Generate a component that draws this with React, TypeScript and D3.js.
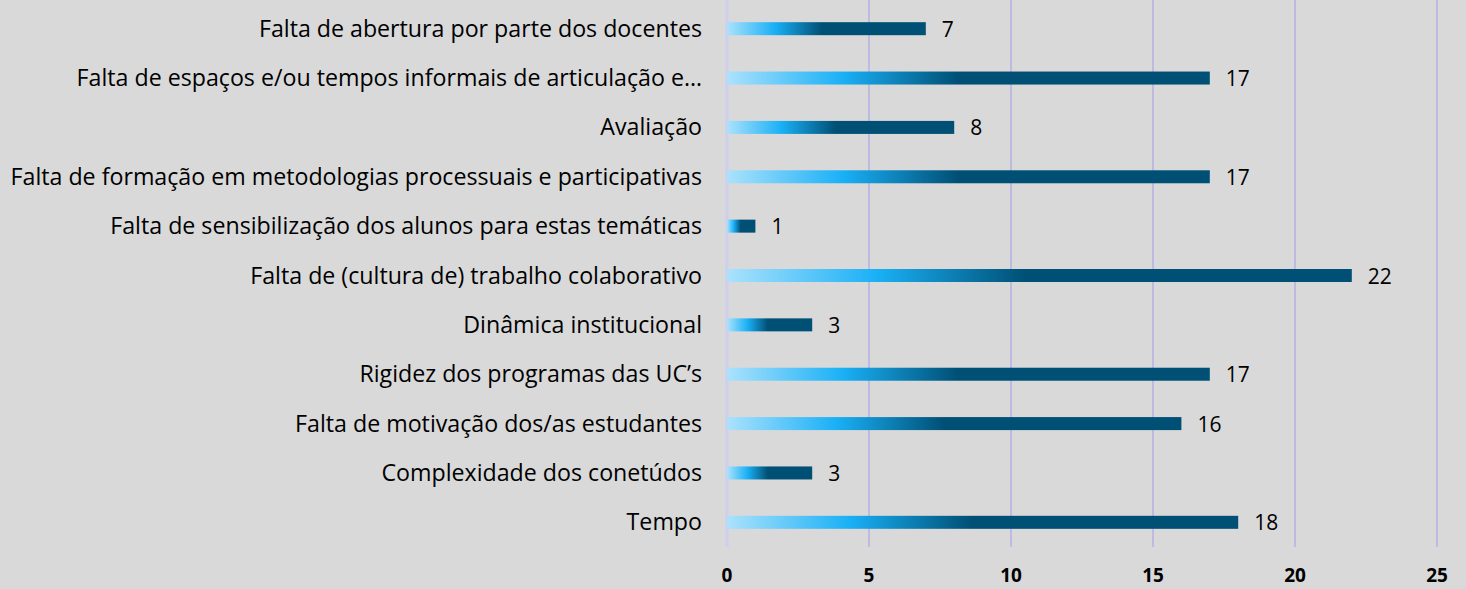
import React from "react";
import * as d3 from "d3";

const categories = [
  "Falta de abertura por parte dos docentes",
  "Falta de espaços e/ou tempos informais de articulação e…",
  "Avaliação",
  "Falta de formação em metodologias processuais e participativas",
  "Falta de sensibilização dos alunos para estas temáticas",
  "Falta de (cultura de) trabalho colaborativo",
  "Dinâmica institucional",
  "Rigidez dos programas das UC’s",
  "Falta de motivação dos/as estudantes",
  "Complexidade dos conetúdos",
  "Tempo",
];
const values = [7, 17, 8, 17, 1, 22, 3, 17, 16, 3, 18];
const ticks = [0, 5, 10, 15, 20, 25];

const W = 1466;
const H = 589;

export default function App() {
  const x = d3.scaleLinear().domain([0, 25]).range([727, 1437]);
  const y = d3.scaleBand().domain(categories).range([4, 547]);
  const barH = 13;
  return (
    <svg
      width={W}
      height={H}
      style={{ position: "absolute", left: 0, top: 0, display: "block" }}
      fontFamily="'Open Sans', sans-serif"
    >
      <defs>
        <linearGradient id="barGrad" x1="0" x2="1" y1="0" y2="0">
          <stop offset="0" stopColor="#abe2fc" />
          <stop offset="0.24" stopColor="#1ab0f6" />
          <stop offset="0.48" stopColor="#004f74" />
          <stop offset="1" stopColor="#004f74" />
        </linearGradient>
      </defs>
      <rect x={0} y={0} width={W} height={H} fill="#d9d9d9" />
      {ticks.map((t) => (
        <line
          key={"g" + t}
          x1={x(t)}
          x2={x(t)}
          y1={0}
          y2={547}
          stroke={t === 0 ? "#d0cdee" : "#b5b0e6"}
          strokeWidth={t === 0 ? 3 : 1.5}
        />
      ))}
      {ticks.map((t) => (
        <text
          key={"t" + t}
          x={x(t)}
          y={582}
          textAnchor="middle"
          fontSize={19}
          fontWeight="bold"
          fill="#000"
        >
          {t}
        </text>
      ))}
      {categories.map((c, i) => {
        const cy = (y(c) as number) + y.bandwidth() / 2;
        return (
          <g key={c}>
            <rect
              x={x(0)}
              y={cy - barH / 2}
              width={x(values[i]) - x(0)}
              height={barH}
              fill="url(#barGrad)"
            />
            <text
              x={702}
              y={cy + 8}
              textAnchor="end"
              fontSize={23.2}
              fill="#000"
            >
              {c}
            </text>
            <text x={x(values[i]) + 16} y={cy + 8} fontSize={21} fill="#000">
              {values[i]}
            </text>
          </g>
        );
      })}
    </svg>
  );
}
